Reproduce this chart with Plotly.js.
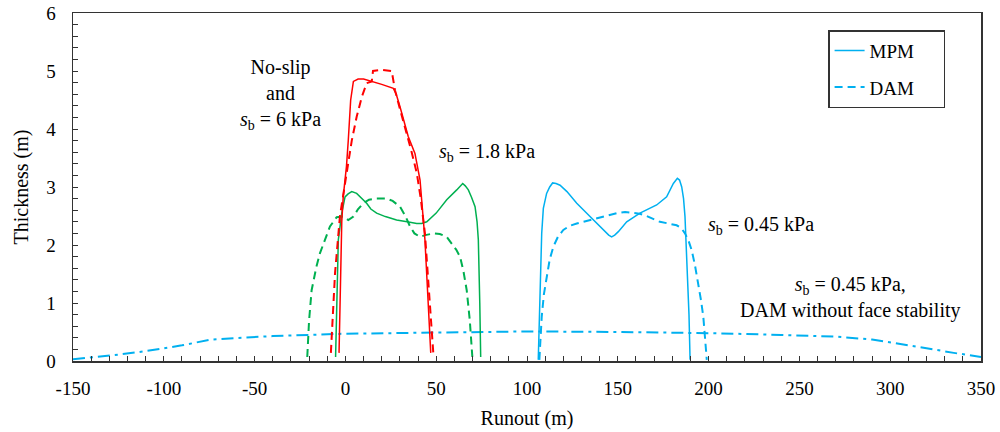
<!DOCTYPE html>
<html>
<head>
<meta charset="utf-8">
<script src="https://cdn.plot.ly/plotly-3.0.1.min.js"></script>
<style>html,body{margin:0;padding:0;background:#fff;}#chart{width:1000px;height:432px;}</style>
</head>
<body>
<div id="chart"></div>
<script>
// Red: no-slip and s_b = 6 kPa
const redMpmX = [-3.5, -2.8, -2, -1.2, 0.6, 1.6, 2.9, 4.4, 7, 10, 15, 20, 26.4, 28, 30.1, 34.6, 38.3, 41.1, 43.8, 45.6, 47];
const redMpmY = [0.14, 1.4, 2.4, 2.83, 3.36, 3.81, 4.5, 4.82, 4.86, 4.86, 4.82, 4.77, 4.7, 4.6, 4.38, 3.87, 3.58, 3.12, 2.09, 0.94, 0.14];
const redDamX = [-8, -7, -5.7, -3, 0.7, 3.5, 6.2, 9, 11.7, 14.5, 15.2, 20, 25.5, 26.5, 27.3, 30, 33.7, 36.5, 39.3, 41.5, 43.8, 46, 48.4];
const redDamY = [0.14, 0.8, 1.52, 2.5, 3.24, 3.8, 4.21, 4.55, 4.79, 4.82, 5.0, 5.02, 5.0, 4.8, 4.67, 4.35, 3.93, 3.6, 3.24, 2.8, 2.2, 1.2, 0.14];
// Green: s_b = 1.8 kPa
const greenMpmX = [-5.4, -4.8, -3.9, -2, -0.2, 1.5, 3.5, 6.2, 9, 11.7, 14, 17.2, 22, 28.2, 34, 39.3, 42, 44.8, 50, 55.8, 61.3, 64.6, 66, 67.7, 69.5, 71.4, 72.5, 73.2, 74, 74.5];
const greenMpmY = [0.07, 1.0, 2.09, 2.55, 2.83, 2.88, 2.92, 2.89, 2.8, 2.72, 2.62, 2.55, 2.49, 2.43, 2.4, 2.37, 2.37, 2.40, 2.55, 2.78, 2.95, 3.06, 3.02, 2.95, 2.82, 2.66, 2.4, 2.09, 1.0, 0.07];
const greenDamX = [-21, -20, -18.6, -16, -14, -11, -8.5, -4.8, -1.2, 1.6, 4.4, 7, 9.9, 13, 17.2, 22.7, 26, 30.1, 33, 35.6, 38, 41.1, 44, 48.4, 52, 55.8, 58, 61, 63.1, 65, 66.8, 68.5, 69.9];
const greenDamY = [0.07, 0.7, 1.22, 1.62, 1.86, 2.12, 2.32, 2.48, 2.49, 2.43, 2.49, 2.62, 2.72, 2.78, 2.80, 2.80, 2.76, 2.66, 2.5, 2.32, 2.2, 2.14, 2.17, 2.20, 2.19, 2.14, 2.05, 1.92, 1.80, 1.55, 1.22, 0.7, 0.07];
// Blue: s_b = 0.45 kPa
const blueMpmX = [106.2, 106.7, 107.2, 108.1, 109, 110.8, 112.5, 114.1, 116, 118.2, 122, 127.4, 134.7, 142, 145, 146.6, 148.3, 150.3, 154.9, 162.2, 171.4, 176.9, 179, 180.6, 182.8, 184, 185.2, 186.2, 187, 188.3, 189.2, 189.8];
const blueMpmY = [0.02, 0.7, 1.34, 2.2, 2.63, 2.89, 3.0, 3.07, 3.06, 3.03, 2.92, 2.72, 2.49, 2.26, 2.17, 2.14, 2.17, 2.23, 2.40, 2.55, 2.69, 2.83, 2.95, 3.06, 3.15, 3.12, 3.0, 2.8, 2.49, 1.63, 0.8, 0.02];
const blueDamX = [106.8, 107.3, 108.1, 109.3, 110.8, 112.5, 114.5, 117, 120, 123.5, 127.4, 132, 138.4, 144, 149.4, 154, 158.5, 162, 165.9, 169.5, 173.2, 178, 182.4, 185, 187, 189, 190.7, 192.5, 194.3, 195.8, 197.1, 198.2, 199];
const blueDamY = [0.02, 0.4, 0.76, 1.15, 1.45, 1.75, 1.97, 2.14, 2.26, 2.33, 2.37, 2.41, 2.46, 2.51, 2.55, 2.57, 2.56, 2.54, 2.50, 2.45, 2.40, 2.37, 2.34, 2.29, 2.20, 2.07, 1.91, 1.65, 1.34, 1.05, 0.76, 0.4, 0.02];
// Blue dash-dot: s_b = 0.45 kPa, DAM without face stability
const noFaceX = [-150, -140, -125, -110, -90, -74, -60, -40, -20, 0, 50, 100, 150, 200, 240, 270, 290, 305, 320, 335, 350];
const noFaceY = [0.03, 0.06, 0.11, 0.17, 0.27, 0.37, 0.40, 0.43, 0.45, 0.47, 0.49, 0.51, 0.5, 0.48, 0.45, 0.42, 0.37, 0.3, 0.22, 0.14, 0.07];

const xTicks = [-150, -100, -50, 0, 50, 100, 150, 200, 250, 300, 350];
const yTicks = [0, 1, 2, 3, 4, 5, 6];
const legendNames = ['MPM', 'DAM'];

const RED = '#FF0000', GREEN = '#00B050', BLUE = '#00B0F0';
const FONT = 'Times New Roman, Liberation Serif, DejaVu Serif, serif';
const PAD = '\u00a0\u00a0\u00a0\u00a0\u00a0';

const traces = [
  {x: noFaceX, y: noFaceY, mode: 'lines', line: {color: BLUE, width: 2, dash: '12px,5px,3px,5px'}, showlegend: false},
  {x: greenDamX, y: greenDamY, mode: 'lines', line: {color: GREEN, width: 2, dash: '8px,5px'}, showlegend: false},
  {x: greenMpmX, y: greenMpmY, mode: 'lines', line: {color: GREEN, width: 1.5}, showlegend: false},
  {x: redDamX, y: redDamY, mode: 'lines', line: {color: RED, width: 2, dash: '8px,5px'}, showlegend: false},
  {x: redMpmX, y: redMpmY, mode: 'lines', line: {color: RED, width: 1.5}, showlegend: false},
  {x: blueDamX, y: blueDamY, mode: 'lines', line: {color: BLUE, width: 2, dash: '8px,5px'}, name: legendNames[1] + PAD, legendgroup: 'b', legendrank: 2},
  {x: blueMpmX, y: blueMpmY, mode: 'lines', line: {color: BLUE, width: 1.5}, name: legendNames[0] + PAD, legendgroup: 'a', legendrank: 1}
];

const ann = (x, y, text) => ({x: x, y: y, xref: 'x', yref: 'y', text: text, showarrow: false, font: {family: FONT, size: 20, color: '#000'}});

const layout = {
  width: 1000, height: 432,
  margin: {l: 73, r: 19, t: 13, b: 71},
  paper_bgcolor: '#fff', plot_bgcolor: '#fff',
  font: {family: FONT, size: 19, color: '#000'},
  xaxis: {
    range: [-150, 350], tickvals: xTicks, ticktext: xTicks.map(String),
    ticks: 'inside', ticklen: 5, tickcolor: '#333', tickwidth: 1,
    minor: {dtick: 10, ticks: 'inside', ticklen: 5, tickcolor: '#333'},
    showline: true, linecolor: '#333', linewidth: 1.5, mirror: true,
    showgrid: false, zeroline: false, ticklabelstandoff: 10,
    tickfont: {family: FONT, size: 19},
    title: {text: 'Runout (m)', font: {family: FONT, size: 20}, standoff: 12}
  },
  yaxis: {
    range: [0, 6], tickvals: yTicks, ticktext: yTicks.map(String),
    ticks: 'inside', ticklen: 5, tickcolor: '#333', tickwidth: 1,
    minor: {dtick: 0.2, ticks: 'inside', ticklen: 5, tickcolor: '#333'},
    showline: true, linecolor: '#333', linewidth: 1.5, mirror: true,
    showgrid: false, zeroline: false, ticklabelstandoff: 12,
    tickfont: {family: FONT, size: 19},
    title: {text: 'Thickness (m)', font: {family: FONT, size: 20}, standoff: 12}
  },
  legend: {
    x: 0.8316, y: 0.951, xanchor: 'left', yanchor: 'top',
    bordercolor: '#333', borderwidth: 1.5, bgcolor: '#fff',
    font: {family: FONT, size: 19}, tracegroupgap: 9, traceorder: 'grouped',
    itemwidth: 30
  },
  annotations: [
    ann(-36, 4.59, 'No-slip<br>and<br><i>s</i><sub>b</sub> = 6 kPa'),
    ann(78, 3.59, '<i>s</i><sub>b</sub> = 1.8 kPa'),
    ann(229, 2.34, '<i>s</i><sub>b</sub> = 0.45 kPa'),
    ann(278, 1.10, '<i>s</i><sub>b</sub> = 0.45 kPa,<br>DAM without face stability')
  ]
};

Plotly.newPlot('chart', traces, layout, {displayModeBar: false, staticPlot: true});
</script>
</body>
</html>
